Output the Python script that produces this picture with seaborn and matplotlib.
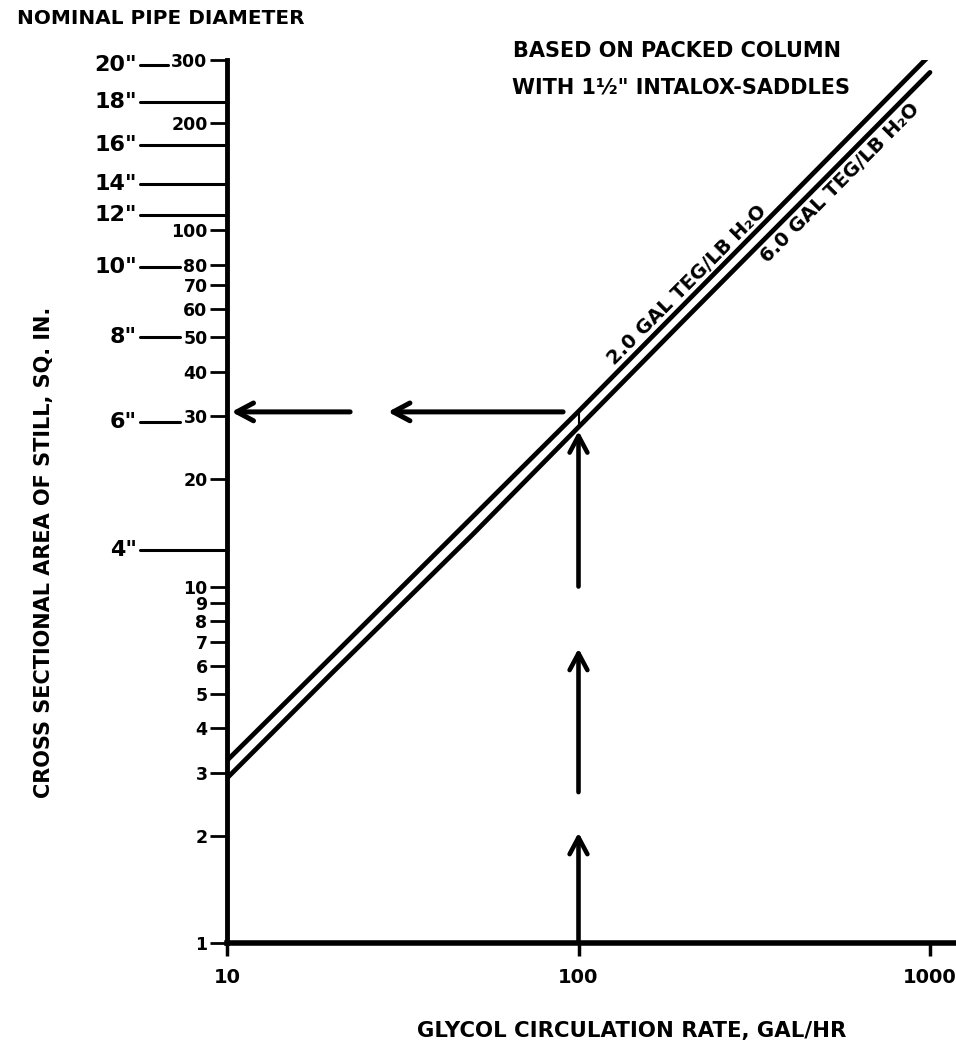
import numpy as np
import pandas as pd
import matplotlib
matplotlib.use("Agg")
import matplotlib.pyplot as plt
from matplotlib.lines import Line2D
from matplotlib.ticker import NullLocator
import seaborn as sns

# ---------------- data ----------------
rate_gal_hr = [10, 20, 50, 100, 200, 500, 1000]
area_2gal = [3.25, 6.4, 15.7, 31.0, 62, 155, 310]
area_6gal = [2.9, 5.75, 14.0, 28.0, 56, 139, 277]
series_names = ["2.0 GAL TEG/LB H\u2082O", "6.0 GAL TEG/LB H\u2082O"]

y_tick_values = [1, 2, 3, 4, 5, 6, 7, 8, 9, 10, 20, 30, 40, 50, 60, 70, 80, 100, 200, 300]
y_tick_labels = [str(v) for v in y_tick_values]
x_tick_values = [10, 100, 1000]
x_tick_labels = ["10", "100", "1000"]

pipe_sizes = ['20"', '18"', '16"', '14"', '12"', '10"', '8"', '6"', '4"']
pipe_areas = [290, 229, 173, 135, 110, 78.8, 50, 28.9, 12.7]

# worked example: 100 gal/hr -> ~31 sq. in.
example_rate = 100
example_area = 30.9
vert_arrow_tails = [1.0, 2.65, 10.0]
vert_arrow_tips = [2.04, 6.7, 27.3]
horiz_arrow_tails = [90.4, 22.4]
horiz_arrow_tips = [28.7, 10.3]

note_lines = ["BASED ON PACKED COLUMN", "WITH 1\u00bd\" INTALOX-SADDLES"]

# ---------------- style ----------------
sns.set_style("ticks")
plt.rcParams["font.family"] = ["DejaVu Sans"]
plt.rcParams["font.weight"] = "bold"
plt.rcParams["axes.labelweight"] = "bold"
plt.rcParams["text.color"] = "black"
plt.rcParams["axes.labelcolor"] = "black"
plt.rcParams["xtick.color"] = "black"
plt.rcParams["ytick.color"] = "black"
plt.rcParams["xtick.labelcolor"] = "black"
plt.rcParams["ytick.labelcolor"] = "black"

W, H = 956, 1049
fig = plt.figure(figsize=(W / 100, H / 100), dpi=100)
ax_left_px, ax_right_px, ax_bottom_px, ax_top_px = 227, 955, 943, 60
ax = fig.add_axes([ax_left_px / W, 1 - ax_bottom_px / H,
                   (ax_right_px - ax_left_px) / W, (ax_bottom_px - ax_top_px) / H])

df = pd.DataFrame({
    "rate": rate_gal_hr * 2,
    "area": area_2gal + area_6gal,
    "series": [series_names[0]] * len(rate_gal_hr) + [series_names[1]] * len(rate_gal_hr),
})
sns.lineplot(data=df, x="rate", y="area", hue="series", palette=["black", "black"],
             linewidth=3.4, legend=False, ax=ax, estimator=None, sort=False)

ax.set_xscale("log")
ax.set_yscale("log")
ax.set_xlim(10, 10 ** (1 + (ax_right_px - ax_left_px) / 351.5))
ax.set_ylim(1, 300)

ax.set_xticks(x_tick_values, x_tick_labels)
ax.set_yticks(y_tick_values, y_tick_labels)
ax.xaxis.set_minor_locator(NullLocator())
ax.yaxis.set_minor_locator(NullLocator())
ax.tick_params(axis="y", length=12, width=2, pad=2, labelsize=12.5, direction="out",
               colors="black")
ax.tick_params(axis="x", length=9, width=2.5, pad=9, labelsize=14, direction="out",
               colors="black")
for t in ax.get_xticklabels() + ax.get_yticklabels():
    t.set_fontweight("bold")
    t.set_color("black")

for s in ["top", "right"]:
    ax.spines[s].set_visible(False)
ax.spines["left"].set_linewidth(3.5)
ax.spines["bottom"].set_linewidth(4)
ax.spines["left"].set_color("black")
ax.spines["bottom"].set_color("black")
ax.grid(False)

# axis labels
ax.set_xlabel("GLYCOL CIRCULATION RATE, GAL/HR", fontsize=15.3, fontweight="bold", color="black")
ax.set_ylabel("CROSS SECTIONAL AREA OF STILL, SQ. IN.", fontsize=15, fontweight="bold",
              color="black")
ax_w = ax_right_px - ax_left_px
ax_h = ax_bottom_px - ax_top_px
ax.xaxis.label.set_va("center")
ax.xaxis.set_label_coords((632 - ax_left_px) / ax_w, (ax_bottom_px - 1031) / ax_h)
ax.yaxis.label.set_va("center")
ax.yaxis.label.set_ha("center")
ax.yaxis.set_label_coords((44 - ax_left_px) / ax_w, (ax_bottom_px - 552) / ax_h)

# title-like texts
fig.text(17 / W, 1 - 18.5 / H, "NOMINAL PIPE DIAMETER", fontsize=14.4, fontweight="bold",
         ha="left", va="center", color="black")
fig.text(513 / W, 1 - 51 / H, note_lines[0], fontsize=15, fontweight="bold", ha="left",
         va="center", color="black")
fig.text(512 / W, 1 - 88 / H, note_lines[1], fontsize=15, fontweight="bold", ha="left",
         va="center", color="black")

# worked-example arrows
arrow_style = "->,head_length=0.6,head_width=0.32"
for tail, tip in zip(vert_arrow_tails, vert_arrow_tips):
    ax.annotate("", xy=(example_rate, tip), xytext=(example_rate, tail),
                arrowprops=dict(arrowstyle=arrow_style, lw=3.3, color="black",
                                shrinkA=0, shrinkB=0, mutation_scale=20))
for tail, tip in zip(horiz_arrow_tails, horiz_arrow_tips):
    ax.annotate("", xy=(tip, example_area), xytext=(tail, example_area),
                arrowprops=dict(arrowstyle=arrow_style, lw=3.6, color="black",
                                shrinkA=0, shrinkB=0, mutation_scale=20))


def on_line(x, ys):
    return 10 ** np.interp(np.log10(x), np.log10(rate_gal_hr), np.log10(ys))


ax.plot([example_rate, example_rate],
        [on_line(example_rate, area_6gal), on_line(example_rate, area_2gal)],
        color="black", lw=1.5, scalex=False, scaley=False)

# line labels, rotated along the lines
p1 = ax.transData.transform((rate_gal_hr[0], area_6gal[0]))
p2 = ax.transData.transform((rate_gal_hr[-1], area_6gal[-1]))
angle = np.degrees(np.arctan2(p2[1] - p1[1], p2[0] - p1[0]))
th = np.radians(angle)

off_up = 4.5
ax.annotate(series_names[0], xy=(215, on_line(215, area_2gal)),
            xytext=(-np.sin(th) * off_up, np.cos(th) * off_up), textcoords="offset points",
            rotation=angle, rotation_mode="anchor", ha="center", va="baseline",
            fontsize=14, fontweight="bold", color="black")
off_dn = 3.5
ax.annotate(series_names[1], xy=(520, on_line(520, area_6gal)),
            xytext=(np.sin(th) * off_dn, -np.cos(th) * off_dn), textcoords="offset points",
            rotation=angle, rotation_mode="anchor", ha="center", va="top",
            fontsize=14, fontweight="bold", color="black")

# nominal pipe diameter scale (left of the y axis)
fig.canvas.draw()
renderer = fig.canvas.get_renderer()
axis_x = ax.transAxes.transform((0, 0))[0]
ax_w_disp = ax.transAxes.transform((1, 0))[0] - axis_x
label_left = {}
for val, tl in zip(y_tick_values, ax.get_yticklabels()):
    label_left[val] = tl.get_window_extent(renderer).x0

ytrans = ax.get_yaxis_transform()
for size, area in zip(pipe_sizes, pipe_areas):
    text_right = axis_x - 90
    ax.text((text_right - axis_x) / ax_w_disp, area, size, transform=ytrans, ha="right",
            va="center", fontsize=16, fontweight="bold", clip_on=False, color="black")
    nearest = min(y_tick_values, key=lambda v: abs(np.log(v / area)))
    if abs(np.log(nearest / area)) < np.log(1.06):
        end = label_left[nearest] - 3
    else:
        end = axis_x - 1
    start = text_right + 3
    ln = Line2D([(start - axis_x) / ax_w_disp, (end - axis_x) / ax_w_disp], [area, area],
                transform=ytrans, color="black", lw=2.2, clip_on=False)
    ax.add_artist(ln)

fig.savefig("out.png", dpi=100, facecolor="white")
